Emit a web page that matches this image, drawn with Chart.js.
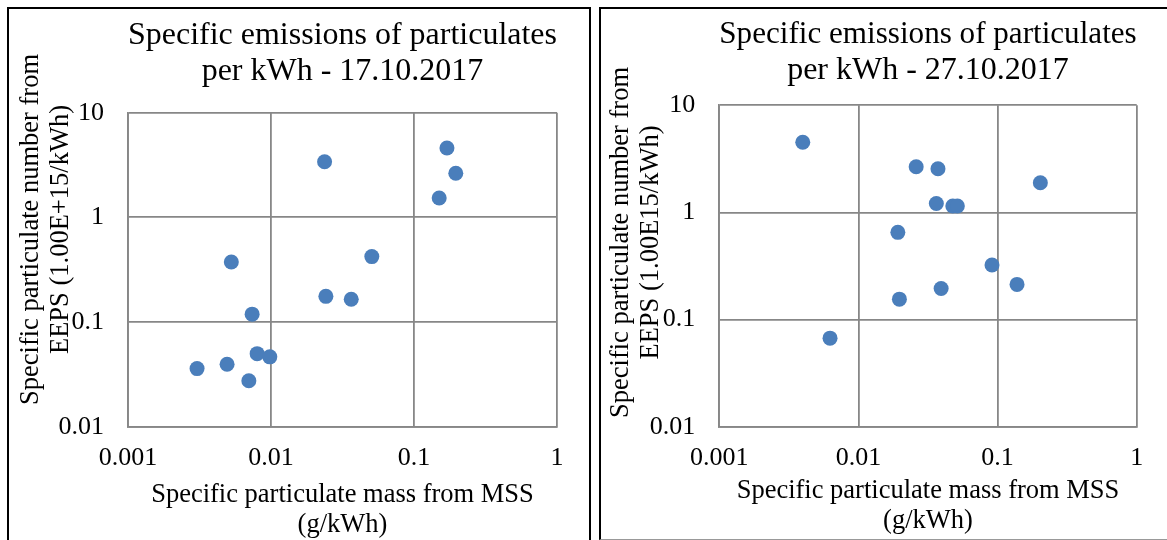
<!DOCTYPE html>
<html>
<head>
<meta charset="utf-8">
<script src="https://cdn.jsdelivr.net/npm/chart.js@4.4.1/dist/chart.umd.min.js"></script>
<style>
  html, body { margin: 0; padding: 0; background: #fff; overflow: hidden; }
  body { width: 1167px; height: 540px; position: relative; }
  .panel { position: absolute; background: #fff; box-sizing: content-box; }
  #panelA { left: 7px; top: 7px; width: 580px; height: 540px;
            border-left: 2px solid #000; border-top: 2px solid #000; border-right: 2px solid #000; }
  #panelB { left: 599px; top: 7px; width: 580px; height: 530px;
            border-left: 2px solid #000; border-top: 2px solid #000; border-bottom: 1px solid #999; }
  canvas { display: block; }
</style>
</head>
<body>
<div class="panel" id="panelA"><canvas id="chartA" width="580" height="531"></canvas></div>
<div class="panel" id="panelB"><canvas id="chartB" width="566" height="530"></canvas></div>

<script>
// ---- data ----
const xTicks = [0.001, 0.01, 0.1, 1];
const xTickLabels = ['0.001', '0.01', '0.1', '1'];
const yTicks = [0.01, 0.1, 1, 10];
const yTickLabels = ['0.01', '0.1', '1', '10'];

// 17.10.2017
const massA = [0.0237, 0.170, 0.196, 0.150, 0.00528, 0.0507, 0.0242, 0.0364, 0.00738, 0.0080, 0.00981, 0.00304, 0.00493, 0.0070];
const numberA = [3.40, 4.60, 2.64, 1.53, 0.375, 0.422, 0.176, 0.165, 0.119, 0.0499, 0.0465, 0.0359, 0.0395, 0.0275];

// 27.10.2017
const massB = [0.00398, 0.0260, 0.0373, 0.203, 0.0363, 0.0477, 0.0514, 0.0192, 0.0912, 0.138, 0.0393, 0.0197, 0.00625];
const numberB = [4.52, 2.67, 2.56, 1.89, 1.21, 1.15, 1.15, 0.652, 0.323, 0.213, 0.195, 0.155, 0.0671];

const FONT = '"Liberation Serif", "Times New Roman", serif';
const DOT = '#4a7ebb';
const GRID = '#878787';

// draws the two-line rotated y-axis title (Excel places it off the plot centre)
const yTitlePlugin = {
  id: 'yTitle',
  afterDraw(chart, args, opts) {
    const ctx = chart.ctx;
    ctx.save();
    ctx.font = opts.size + 'px ' + FONT;
    ctx.fillStyle = '#000';
    ctx.textAlign = 'center';
    ctx.textBaseline = 'middle';
    opts.lines.forEach((line, i) => {
      ctx.save();
      ctx.translate(opts.x + i * opts.lineHeight, opts.centerY);
      ctx.rotate(-Math.PI / 2);
      ctx.fillText(line, 0, 0);
      ctx.restore();
    });
    ctx.restore();
  }
};

function makeChart(canvasId, mass, number, cfg) {
  const points = mass.map((m, i) => ({ x: m, y: number[i] }));
  return new Chart(document.getElementById(canvasId), {
    type: 'scatter',
    data: {
      datasets: [{
        data: points,
        backgroundColor: DOT,
        borderWidth: 0,
        pointRadius: 7.5,
        pointHoverRadius: 7.5
      }]
    },
    options: {
      responsive: false,
      animation: false,
      layout: { padding: { left: 0, right: cfg.padRight, top: 0, bottom: 0 } },
      plugins: {
        legend: { display: false },
        tooltip: { enabled: false },
        title: {
          display: true,
          text: cfg.title,
          fullSize: false,
          color: '#000',
          font: { family: FONT, size: 32, weight: 'normal', lineHeight: 1.125 },
          padding: { top: cfg.titleTop, bottom: cfg.titleBottom }
        },
        yTitle: {
          lines: cfg.yTitle,
          size: 26.5,
          lineHeight: 30,
          x: cfg.yTitleX,
          centerY: cfg.yTitleY
        }
      },
      scales: {
        x: {
          type: 'logarithmic',
          min: 0.001,
          max: 1,
          afterBuildTicks: s => { s.ticks = xTicks.map(v => ({ value: v })); },
          afterFit: s => { s.height = cfg.xHeight; },
          ticks: {
            callback: v => xTickLabels[xTicks.indexOf(v)],
            color: '#000',
            font: { family: FONT, size: 26, lineHeight: 1.2 },
            padding: 15.4,
            maxRotation: 0,
            autoSkip: false
          },
          grid: { color: GRID, lineWidth: 1.8, drawTicks: false },
          border: { color: GRID, width: 1.8 },
          title: {
            display: true,
            text: ['Specific particulate mass from MSS', '(g/kWh)'],
            color: '#000',
            font: { family: FONT, size: 26.5, lineHeight: 1.12 },
            padding: { top: 0, bottom: cfg.xTitleBottom }
          }
        },
        y: {
          type: 'logarithmic',
          min: 0.01,
          max: 10,
          afterBuildTicks: s => { s.ticks = yTicks.map(v => ({ value: v })); },
          afterFit: s => { s.width = cfg.yWidth; },
          ticks: {
            callback: v => yTickLabels[yTicks.indexOf(v)],
            color: '#000',
            font: { family: FONT, size: 26, lineHeight: 1.2 },
            padding: 24,
            autoSkip: false
          },
          grid: { color: GRID, lineWidth: 1.8, drawTicks: false },
          border: { color: GRID, width: 1.8 }
        }
      }
    },
    plugins: [yTitlePlugin]
  });
}

makeChart('chartA', massA, numberA, {
  title: ['Specific emissions of particulates', 'per kWh - 17.10.2017'],
  yTitle: ['Specific particulate number from', 'EEPS (1.00E+15/kWh)'],
  padRight: 32, titleTop: 9, titleBottom: 22.7,
  yWidth: 119, xHeight: 113.3, xTitleBottom: 0,
  yTitleX: 22, yTitleY: 220.5
});

makeChart('chartB', massB, numberB, {
  title: ['Specific emissions of particulates', 'per kWh - 27.10.2017'],
  yTitle: ['Specific particulate number from', 'EEPS (1.00E15/kWh)'],
  padRight: 30.3, titleTop: 7.4, titleBottom: 16.9,
  yWidth: 118.3, xHeight: 112.3, xTitleBottom: 3.2,
  yTitleX: 20, yTitleY: 233.5
});
</script>
</body>
</html>
